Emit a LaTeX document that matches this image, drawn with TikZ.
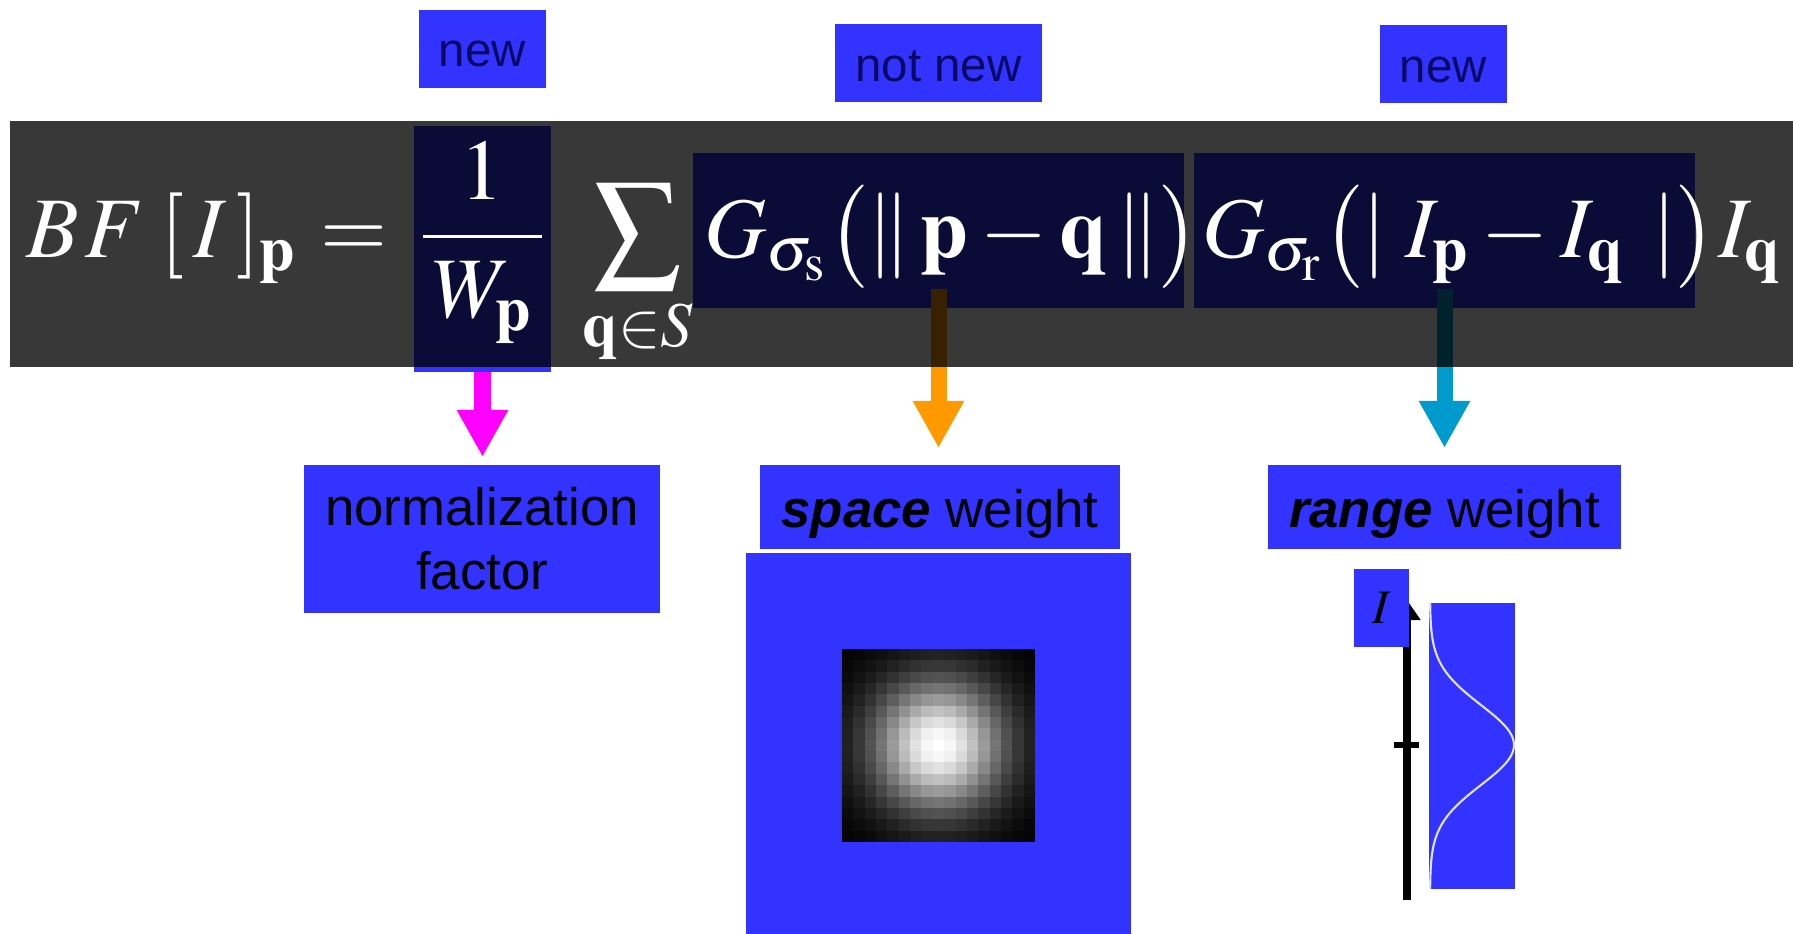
\documentclass[tikz,border=0pt]{standalone}
\usepackage{mathptmx}
\usepackage[no-math]{fontspec}
\setmainfont{Liberation Sans}
\usetikzlibrary{arrows.meta,positioning,calc}

\definecolor{hlblue}{RGB}{51,51,255}
\definecolor{tagnavy}{RGB}{10,10,100}
\definecolor{nmagenta}{RGB}{255,0,255}
\definecolor{sorange}{RGB}{255,153,0}
\definecolor{rcyan}{RGB}{0,155,204}
\definecolor{curvegray}{RGB}{225,225,240}

\tikzset{
  hl/.style={fill=hlblue, inner sep=0pt, outer sep=0pt},
  tagbox/.style={hl, text=tagnavy, font=\fontsize{13.5}{16}\selectfont, text height=0.36cm, text depth=0pt},
  notebox/.style={hl, text=black, font=\fontsize{15}{18.2}\selectfont, align=center},
  eqn/.style={text=white, inner sep=0pt, outer sep=0pt, anchor=base west, font=\fontsize{24.5}{29}\selectfont},
  pointer/.style={line width=0.16cm, -{Triangle[length=0.47cm,width=0.48cm]}},
}

\begin{document}
\begin{tikzpicture}[x=0.01cm,y=-0.01cm]
\useasboundingbox (0,0) rectangle (1793,934);

% tags above
\node[tagbox, minimum width=1.27cm, minimum height=0.78cm] (new1) at (482.5,49) {new};
\node[tagbox, minimum width=2.07cm, minimum height=0.78cm] (notnew) at (938.5,63) {not new};
\node[tagbox, minimum width=1.27cm, minimum height=0.78cm] (new2) at (1443.5,64) {new};

% highlighted terms, under the band
\node[hl, minimum width=1.37cm, minimum height=2.46cm] (fracbox) at (482.5,249) {};
\node[hl, minimum width=4.91cm, minimum height=1.55cm] (gsbox) at (938.5,230.5) {};
\node[hl, minimum width=5.01cm, minimum height=1.55cm] (grbox) at (1444.5,230.5) {};

% notes below
\node[notebox, minimum width=3.56cm, minimum height=1.48cm] (norm) at (482,539) {normalization\\factor};
\node[notebox, minimum width=3.60cm, minimum height=0.84cm, text height=0.40cm, text depth=0pt] (spacew) at (940,507) {\textbf{\textit{space}} weight};
\node[notebox, minimum width=3.53cm, minimum height=0.84cm, text height=0.40cm, text depth=0pt] (rangew) at (1444.5,507) {\textbf{\textit{range}} weight};

\draw[pointer, nmagenta, shorten >=0.08cm] (fracbox.south) -- (fracbox.south |- norm.north);
\draw[pointer, sorange, shorten <=-0.19cm, shorten >=0.17cm] (gsbox.south) -- (gsbox.south |- spacew.north);
\draw[pointer, rcyan, shorten <=-0.19cm, shorten >=0.17cm] (grbox.south) -- (grbox.south |- rangew.north);

% dark band
\fill[black, opacity=0.78] (10,121) rectangle (1793,367);

% formula
\node[eqn] (bf) at (27,258) {$B\mkern1mu F$};
\node[eqn] (brk) at (160,258) {$[\,I\,]_{\mathbf p}$};
\node[eqn] (eqs) at (320,258) {$=$};
\node[eqn, anchor=base] (fraction) at (482.5,258) {$\displaystyle\frac{\,1\,}{\mkern2mu W_{\mathbf p}\mkern2mu}$};
\node[eqn, anchor=base] (sumop) at (638,258) {$\displaystyle\sum_{\mathbf q\in S}$};
\node[eqn] (gsterm) at (704,258) {$G_{\sigma_{\mathrm s}}\bigl(\|\,\mathbf p-\mathbf q\,\|\bigr)$};
\node[eqn] (grterm) at (1202,258) {$G_{\sigma_{\mathrm r}}\bigl(|\;I_{\mathbf p}-I_{\mathbf q}\;\,|\bigr)$};
\node[eqn] (iq) at (1718,258) {$I_{\mathbf q}$};

% space weight kernel
\node[hl, minimum width=3.85cm, minimum height=3.81cm] (spaceimg) at (938.5,743.5) {};
\foreach \i in {0,...,16}
  \foreach \j in {0,...,16} {
    \pgfmathsetmacro\lum{100*exp(-((\i-8)^2+(\j-8)^2)/32)}
    \fill[white!\lum!black] (842+11.35*\i,649+11.35*\j) rectangle ++(11.5,11.5);
  }

% range weight profile
\node[hl, minimum width=0.86cm, minimum height=2.86cm] (gplot) at (1472,746) {};
\draw[curvegray, line width=0.6pt] plot[domain=603:889, samples=90] ({1430+84*exp(-0.5*((\x-745)/40)^2)}, \x);
\coordinate (axbot) at (1407,900);
\coordinate (axtop) at (1407,600);
\draw[line width=0.08cm, -{Triangle[length=0.2cm,width=0.26cm]}] (axbot) -- (axtop);
\coordinate (tickl) at (1394,745);
\coordinate (tickr) at (1419,745);
\draw[line width=0.06cm] (tickl) -- (tickr);
\node[hl, minimum width=0.55cm, minimum height=0.78cm, font=\fontsize{13.7}{16}\selectfont] (ilab) at (1381.5,608) {$I$};
\end{tikzpicture}
\end{document}
